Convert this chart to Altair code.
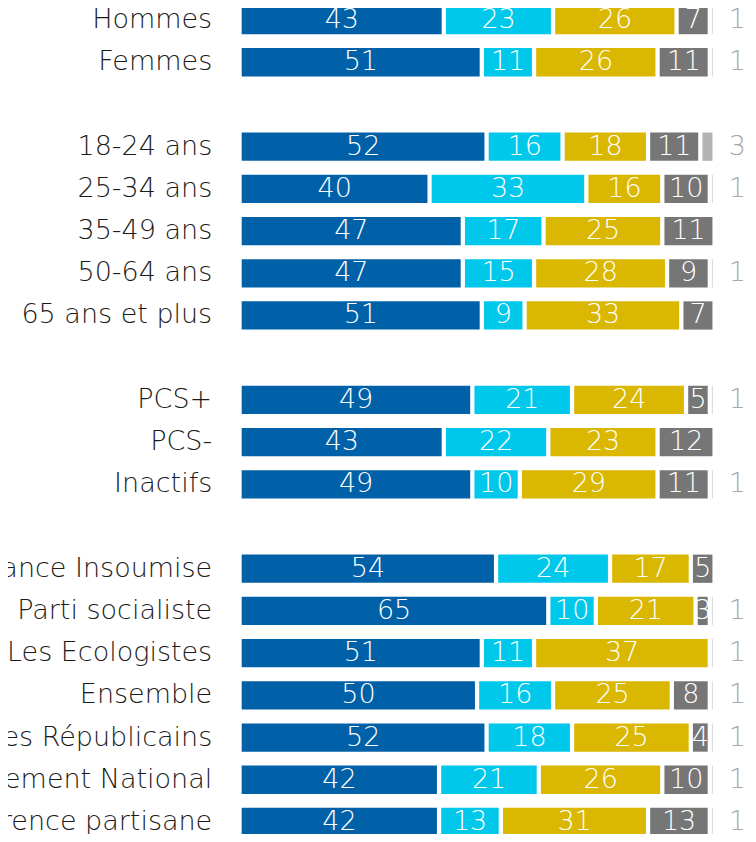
import altair as alt
import pandas as pd

# Rows (blank strings are spacer rows between groups)
categories = [
    "Hommes", "Femmes", " ",
    "18-24 ans", "25-34 ans", "35-49 ans", "50-64 ans", "65 ans et plus", "  ",
    "PCS+", "PCS-", "Inactifs", "   ",
    "La France Insoumise", "Le Parti socialiste", "Les Ecologistes", "Ensemble ",
    "Les Républicains", "Rassemblement National", "Sans préférence partisane",
]
rows = [c for c in categories if c.strip()]

series_names = ["s1", "s2", "s3", "s4", "s5"]
s1 = [43, 51, 52, 40, 47, 47, 51, 49, 43, 49, 54, 65, 51, 50, 52, 42, 42]
s2 = [23, 11, 16, 33, 17, 15, 9, 21, 22, 10, 24, 10, 11, 16, 18, 21, 13]
s3 = [26, 26, 18, 16, 25, 28, 33, 24, 23, 29, 17, 21, 37, 25, 25, 26, 31]
s4 = [7, 11, 11, 10, 11, 9, 7, 5, 12, 11, 5, 3, 0, 8, 4, 10, 13]
s5 = [1, 1, 3, 1, 0, 1, 0, 1, 0, 1, 0, 1, 1, 1, 1, 1, 1]
colors = ["#0061A9", "#00C8EB", "#DAB700", "#767676", "#B3B3B3"]

recs = []
for i, r in enumerate(rows):
    for k, (name, vals) in enumerate(zip(series_names, [s1, s2, s3, s4, s5])):
        recs.append({"cat": r, "series": name, "order": k, "value": vals[i]})
df = pd.DataFrame(recs)

FONT = "DejaVu Sans"
WEIGHT = 200

y_enc = alt.Y(
    "cat:N",
    sort=categories,
    scale=alt.Scale(domain=categories, range=[-2.1, 828.1],
                    paddingInner=0.33, paddingOuter=0),
    axis=alt.Axis(
        title=None, domain=False, ticks=False, labelPadding=30,
        labelFontSize=27, labelFont=FONT, labelFontWeight=WEIGHT,
        labelColor="#1a1a1a", labelLimit=0,
    ),
)

base = alt.Chart(df).transform_filter("datum.value > 0").transform_stack(
    stack="value", groupby=["cat"], as_=["x0", "x1"],
    sort=[alt.SortField("order", order="ascending")],
).transform_calculate(mid="(datum.x0 + datum.x1) / 2")

xscale = alt.Scale(domain=[0, 100], nice=False, zero=True)

bars = base.mark_bar(x2Offset=-4.25).encode(
    x=alt.X("x0:Q", scale=xscale, axis=None),
    x2="x1:Q",
    y=y_enc,
    color=alt.Color("series:N", scale=alt.Scale(domain=series_names, range=colors), legend=None),
)

inside = base.transform_filter("datum.order < 4").mark_text(
    color="white", fontSize=27, font=FONT, fontWeight=WEIGHT, dx=-2, baseline="middle"
).encode(
    x=alt.X("mid:Q", scale=xscale, axis=None),
    y=y_enc,
    text=alt.Text("value:Q"),
)

outside = base.transform_filter("datum.order == 4").mark_text(
    color="#A8A8A8", fontSize=27, font=FONT, fontWeight=WEIGHT, dx=12, align="left",
    baseline="middle",
).encode(
    x=alt.X("x1:Q", scale=xscale, axis=None),
    y=y_enc,
    text=alt.Text("value:Q"),
)

chart = alt.layer(bars, inside, outside).properties(
    width=475, height=826,
    autosize=alt.AutoSizeParams(type="none"),
    padding={"left": 233.7, "top": 0, "right": 30, "bottom": 0},
).configure_view(stroke=None)

chart.save("out.html", embed_options={"renderer": "svg", "actions": False})
